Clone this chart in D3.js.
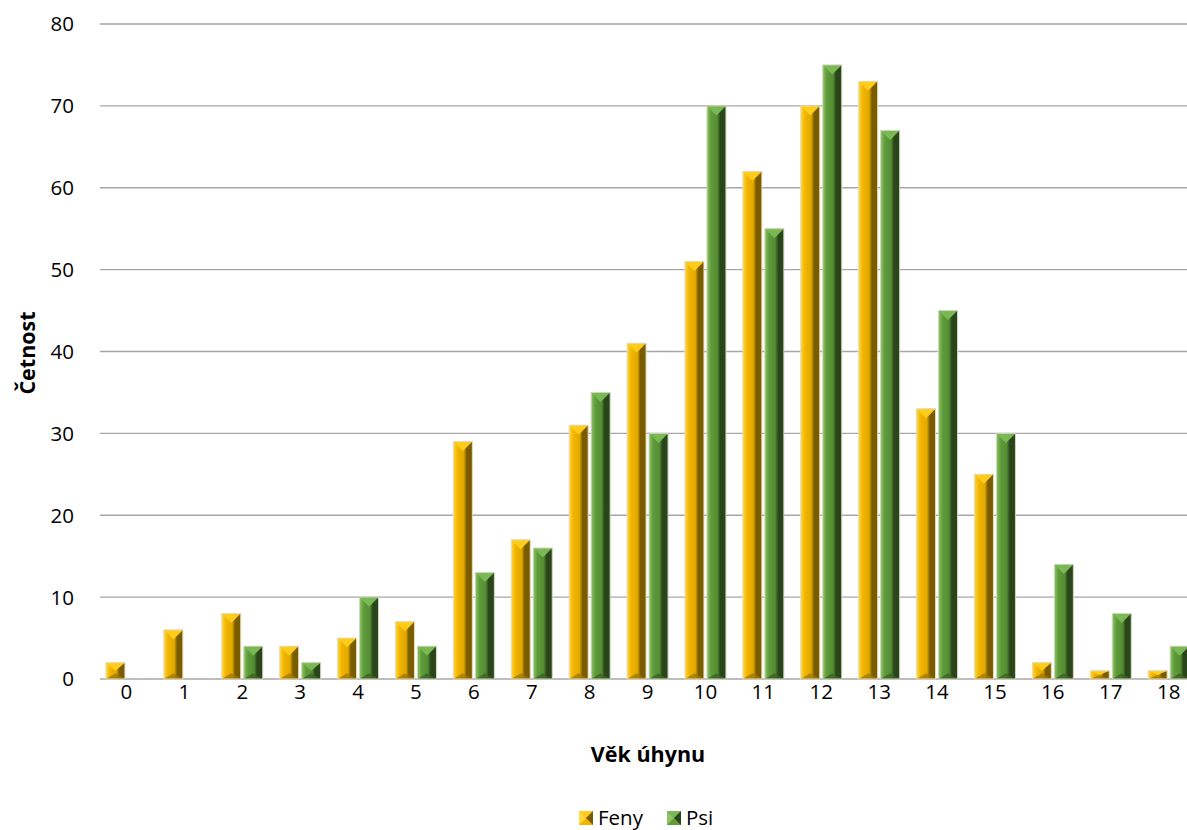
<!DOCTYPE html>
<html><head><meta charset="utf-8">
<script src="https://cdn.jsdelivr.net/npm/d3@7/dist/d3.min.js"></script>
<style>body{margin:0;background:#fff}svg{display:block}text{font-family:"Open Sans","Noto Sans",sans-serif;fill:#000}</style>
</head><body><svg id="c" width="1187" height="830"></svg>
<script>
const categories = ["0","1","2","3","4","5","6","7","8","9","10","11","12","13","14","15","16","17","18"];
const feny = [2,6,8,4,5,7,29,17,31,41,51,62,70,73,33,25,2,1,1];
const psi  = [0,0,4,2,10,4,13,16,35,30,70,55,75,67,45,30,14,8,4];
const seriesNames = ["Feny","Psi"];
const yTicks = [0,10,20,30,40,50,60,70,80];

(function(){
const svg = d3.select("#c");
const plotLeft = 97.5, step = 57.9, plotTop = 24, plotBottom = 679;
const x = d3.scaleBand().domain(categories).range([plotLeft, plotLeft + step*categories.length]).paddingInner(0).paddingOuter(0);
const y = d3.scaleLinear().domain([0,80]).range([plotBottom, plotTop]);
const gridRight = 1187;
const fs = 20.5;

const pal = [
  {light:"#ffd740", main:"#f2b500", mid:"#e0a800", dark:"#7a5c00", topc:"#ffcc1a", bot:"#a07800", stroke:"#e6dcb8"},
  {light:"#8cc463", main:"#5f9b3a", mid:"#548c33", dark:"#2a4519", topc:"#7ab854", bot:"#3d6124", stroke:"#cfd8c0"}
];
const defs = svg.append("defs");
pal.forEach((p,i)=>{
  const g = defs.append("linearGradient").attr("id","g"+i).attr("x1","0").attr("x2","1").attr("y1","0").attr("y2","0");
  g.append("stop").attr("offset","0").attr("stop-color",p.light);
  g.append("stop").attr("offset","0.22").attr("stop-color",p.main);
  g.append("stop").attr("offset","0.55").attr("stop-color",p.mid);
  g.append("stop").attr("offset","0.7").attr("stop-color",p.dark);
  g.append("stop").attr("offset","1").attr("stop-color",p.dark);
});

svg.append("g").selectAll("line").data(yTicks).join("line")
  .attr("x1",100).attr("x2",gridRight).attr("y1",d=>y(d)).attr("y2",d=>y(d))
  .attr("stroke","#a6a6a6").attr("stroke-width",1.3);

svg.append("g").selectAll("text").data(yTicks).join("text")
  .attr("x",74).attr("y",d=>y(d)).attr("dy","0.36em").attr("text-anchor","end")
  .attr("font-size",fs).text(d=>d);

const barW = 19, innerGap = 3;
const data = [];
categories.forEach((c,ci)=>{
  [feny[ci], psi[ci]].forEach((v,si)=>{ data.push({c, v, si}); });
});
defs.append("clipPath").attr("id","clip").append("rect").attr("x",0).attr("y",0).attr("width",1187).attr("height",830);
const bars = svg.append("g").attr("clip-path","url(#clip)");
data.filter(d=>d.v>0).forEach(d=>{
  const cx = x(d.c) + x.bandwidth()/2;
  const x0 = d.si===0 ? cx - innerGap/2 - barW : cx + innerGap/2;
  const y0 = y(d.v), y1 = y(0), h = y1 - y0, w = barW;
  const p = pal[d.si];
  const g = bars.append("g");
  g.append("rect").attr("x",x0).attr("y",y0).attr("width",w).attr("height",h).attr("fill","url(#g"+d.si+")");
  const b = Math.min(w/2, h/2, 10);
  const bb = Math.min(w/2*0.6, h/2, 6);
  g.append("polygon").attr("points",[[x0,y0],[x0+w,y0],[x0+w/2,y0+b]].join(" ")).attr("fill",p.topc);
  g.append("polygon").attr("points",[[x0,y1],[x0+w,y1],[x0+w/2,y1-bb]].join(" ")).attr("fill",p.bot).attr("opacity",0.8);
  g.append("rect").attr("x",x0).attr("y",y0).attr("width",w).attr("height",h).attr("fill","none").attr("stroke",p.stroke).attr("stroke-width",1);
});

svg.append("g").selectAll("text").data(categories).join("text")
  .attr("x",d=>x(d)+x.bandwidth()/2).attr("y",699).attr("text-anchor","middle")
  .attr("font-size",fs).text(d=>d);

svg.append("text").attr("x",648).attr("y",762).attr("text-anchor","middle")
  .attr("font-size",21.5).attr("font-weight","bold").text("Věk úhynu");
svg.append("text").attr("transform","translate(35,353) rotate(-90)").attr("text-anchor","middle")
  .attr("font-size",21.5).attr("font-weight","bold").text("Četnost");

const lg = svg.append("g");
const lx = [579, 667];
seriesNames.forEach((n,i)=>{
  const p = pal[i], sx = lx[i], sy = 811, s = 14;
  lg.append("rect").attr("x",sx).attr("y",sy).attr("width",s).attr("height",s).attr("fill",p.main);
  lg.append("polygon").attr("points",[[sx,sy],[sx+s,sy],[sx+s/2,sy+s/2]].join(" ")).attr("fill",p.topc);
  lg.append("polygon").attr("points",[[sx+s,sy],[sx+s,sy+s],[sx+s/2,sy+s/2]].join(" ")).attr("fill",p.dark);
  lg.append("polygon").attr("points",[[sx,sy],[sx,sy+s],[sx+s/2,sy+s/2]].join(" ")).attr("fill",p.light);
  lg.append("text").attr("x",sx+s+5).attr("y",sy+s/2).attr("dy","0.36em").attr("font-size",fs).text(n);
});
})();
</script></body></html>
